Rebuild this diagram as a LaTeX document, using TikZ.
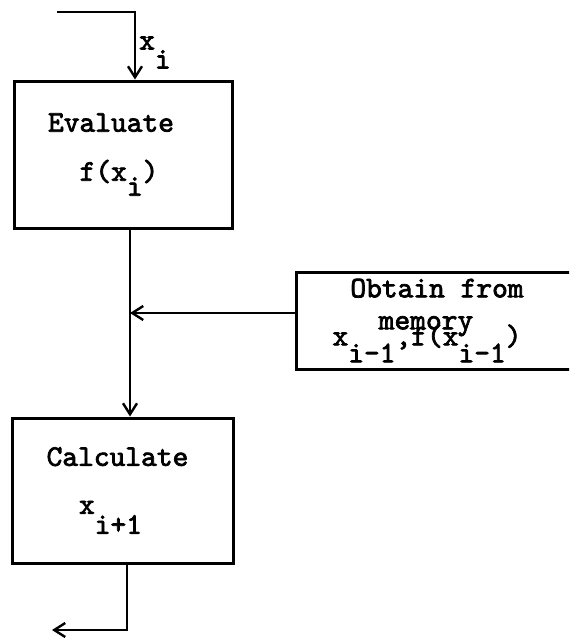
\documentclass[tikz,border=0pt]{standalone}
\usepackage{fontspec}
\newfontfamily\tw{lmmono10-regular.otf}[FakeBold=2.5]
\usepackage{tikz}
\usetikzlibrary{arrows.meta,positioning,calc}

% typewriter subscript: same size, just dropped
\newcommand{\lowr}[2][8pt]{\raisebox{-#1}{#2}}

\tikzset{
  % Base box
  FB/.style={rectangle,draw,line width=1.5pt,align=center,
             font=\fontsize{15}{16}\selectfont\tw},
  % Arrow
  arr/.style={-{Straight Barb[length=5.5pt,width=7pt]},line width=1.2pt},
  % Label style
  LX/.style={font=\fontsize{15}{16}\selectfont\tw,inner sep=1.5pt}
}

\begin{document}
\begin{tikzpicture}[x=0.5pt,y=-0.5pt]
  \useasboundingbox (0,0) rectangle (569,638);
  \clip (0,0) rectangle (569,638);

  \node[FB,minimum width=109pt,minimum height=73.5pt] (eval) at (123,154.5)
    {\hspace*{-12pt}Evaluate\\[8.5pt]\hspace*{-4pt}f(x\lowr[7.5pt]{i})};
  \node[FB,minimum width=110.5pt,minimum height=72.5pt] (calc) at (122.5,490.5)
    {\hspace*{-5pt}Calculate\\[8pt]\hspace*{-12pt}x\lowr[10pt]{i+1}};
  \node[FB,minimum width=141pt,minimum height=46.5pt] (mem) at (437,320.5)
    {Obtain from\\\hspace*{-11pt}memory\\[-8pt]\hspace*{-10pt}x\lowr[8.5pt]{i-1},f(x\lowr[8.5pt]{i-1})};

  % --- connector ends ---
  \coordinate (in)    at (57,12);
  \coordinate (intop) at (135,12);
  \coordinate (jn)    at (130,313);
  \coordinate (outc)  at (127,630);
  \coordinate (out)   at (52,630);

  \draw[arr](in) -- (intop) -- node[LX,right,pos=0.6] (xin) {x\lowr[9.5pt]{i}} (eval.north -| intop);
  \draw[arr](eval.south -| jn) -- (calc.north -| jn);
  \draw[arr](mem.west |- jn) -- (jn);
  \draw[arr](calc.south -| outc) -- (outc) -- (out);
\end{tikzpicture}
\end{document}
